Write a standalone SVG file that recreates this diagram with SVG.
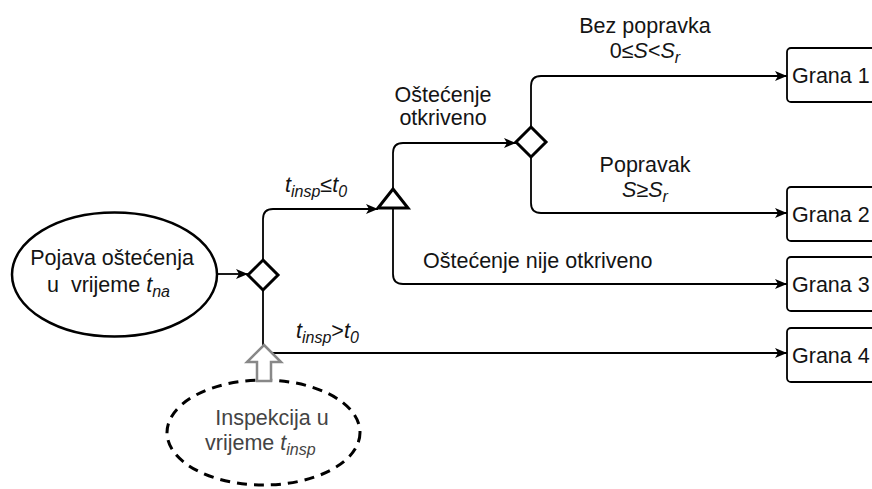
<svg xmlns="http://www.w3.org/2000/svg" width="872" height="489" viewBox="0 0 872 489">
<style>
text{font-family:"Liberation Sans",Arial,sans-serif;font-size:21.5px;fill:#141414}
.i{font-style:italic}
.sub{font-size:16px}
.c{text-anchor:middle}
.grey{fill:#444}
.conn{fill:none;stroke:#000;stroke-width:1.8}
.gw{fill:#fff;stroke:#000;stroke-width:3}
.box{fill:#fff;stroke:#000;stroke-width:1.8}
</style>
<defs>
<marker id="arr" markerUnits="userSpaceOnUse" markerWidth="14" markerHeight="12" refX="12" refY="5" orient="auto">
<path d="M0,0 L12,5 L0,10 L3,5 Z" fill="#000"/>
</marker>
</defs>
<rect width="872" height="489" fill="#fff"/>
<g id="connectors">
<path class="conn" d="M217,274 H248" marker-end="url(#arr)"/>
<path class="conn" d="M263,260 V219 Q263,209 273,209 H378" marker-end="url(#arr)"/>
<path class="conn" d="M393,189 V153 Q393,143 403,143 H516" marker-end="url(#arr)"/>
<path class="conn" d="M531,127 V86 Q531,76 541,76 H787" marker-end="url(#arr)"/>
<path class="conn" d="M531,157 V203 Q531,213 541,213 H787" marker-end="url(#arr)"/>
<path class="conn" d="M393,208 V274 Q393,284 403,284 H787" marker-end="url(#arr)"/>
<path class="conn" d="M263,290 V343 Q263,353 273,353 H787" marker-end="url(#arr)"/>
</g>
<g id="start">
<ellipse cx="114.5" cy="274.5" rx="102.5" ry="62" fill="#fff" stroke="#000" stroke-width="2.5"/>
<text class="c" x="112" y="265">Pojava oštećenja</text>
<text x="47" y="292">u&#160; vrijeme <tspan class="i">t</tspan><tspan class="i sub" dy="5">na</tspan></text>
</g>
<g id="gateway1"><path class="gw" d="M263,260 L278,275 L263,290 L248,275 Z"/></g>
<g id="triangle"><path class="gw" d="M378,208 L408,208 L393,189 Z"/></g>
<g id="gateway2"><path class="gw" d="M531,127 L546,142 L531,157 L516,142 Z"/></g>
<g id="grana1"><rect class="box" x="787" y="48" width="95" height="54" rx="4"/><text x="792" y="83">Grana 1</text></g>
<g id="grana2"><rect class="box" x="787" y="187" width="95" height="54" rx="4"/><text x="792" y="222">Grana 2</text></g>
<g id="grana3"><rect class="box" x="787" y="257" width="95" height="54" rx="4"/><text x="792" y="292">Grana 3</text></g>
<g id="grana4"><rect class="box" x="787" y="328" width="95" height="54" rx="4"/><text x="792" y="363">Grana 4</text></g>
<g id="inspection">
<ellipse cx="263.5" cy="432.5" rx="96.5" ry="52.5" fill="#fff" stroke="#000" stroke-width="3" stroke-dasharray="10 7"/>
<text class="c grey" x="272" y="425">Inspekcija u</text>
<text class="grey" x="205" y="450">vrijeme <tspan class="i">t</tspan><tspan class="i sub" dy="5">insp</tspan></text>
<path d="M264,345 L281,362 L271,362 L271,381 L257,381 L257,362 L247,362 Z" fill="#fff" stroke="#888" stroke-width="2.5" stroke-linejoin="miter"/>
</g>
<g id="labels">
<text x="285" y="192"><tspan class="i">t</tspan><tspan class="i sub" dy="5">insp</tspan><tspan dy="-5">≤</tspan><tspan class="i">t</tspan><tspan class="i sub" dy="5">0</tspan></text>
<text x="296" y="338"><tspan class="i">t</tspan><tspan class="i sub" dy="5">insp</tspan><tspan dy="-5">&gt;</tspan><tspan class="i">t</tspan><tspan class="i sub" dy="5">0</tspan></text>
<text class="c" x="443" y="102">Oštećenje</text>
<text class="c" x="443" y="125">otkriveno</text>
<text class="c" x="645" y="33">Bez popravka</text>
<text class="c" x="645" y="58">0≤<tspan class="i">S</tspan>&lt;<tspan class="i">S</tspan><tspan class="i sub" dy="5">r</tspan></text>
<text class="c" x="645" y="172">Popravak</text>
<text class="c" x="645" y="197"><tspan class="i">S</tspan>≥<tspan class="i">S</tspan><tspan class="i sub" dy="5">r</tspan></text>
<text x="423" y="268">Oštećenje nije otkriveno</text>
</g>
</svg>
